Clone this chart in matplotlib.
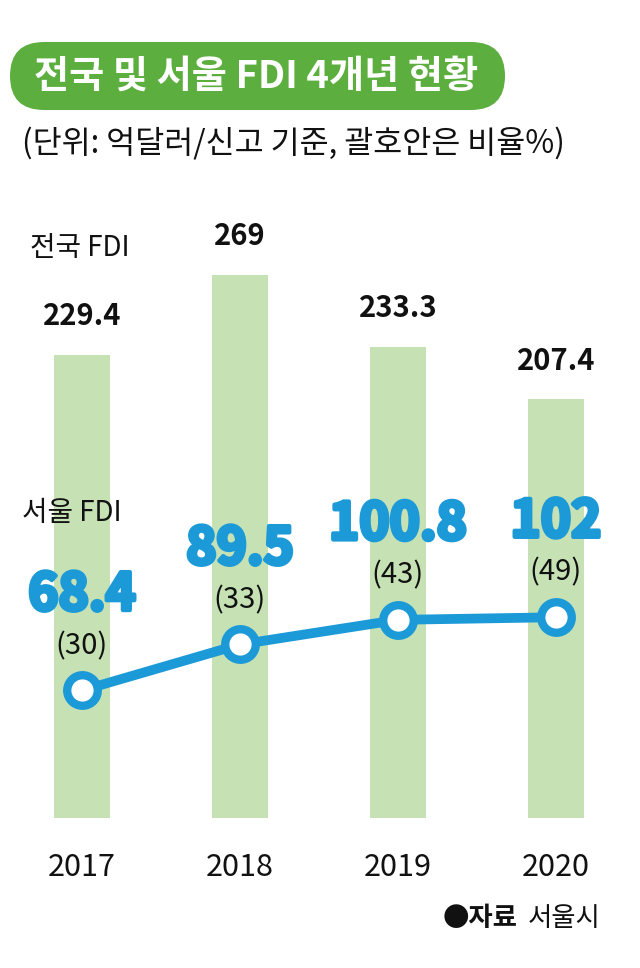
import numpy as np
import matplotlib
matplotlib.use("Agg")
from matplotlib import pyplot as plt
from matplotlib.patches import FancyBboxPatch
from matplotlib import patheffects as pe

plt.rcParams['font.family'] = ['Noto Sans CJK KR', 'DejaVu Sans']

years = ['2017', '2018', '2019', '2020']
national = [229.4, 269, 233.3, 207.4]
seoul = [68.4, 89.5, 100.8, 102]
seoul_pct = [30, 33, 43, 49]

green_bar = '#c6e2b5'
blue = '#1c9ad8'
pill_green = '#5cae3e'

fig = plt.figure(figsize=(6.4, 9.68), dpi=100)

# bars
ax = fig.add_axes([0, 150 / 968, 1, 618 / 968], zorder=1)
ax.patch.set_alpha(0)
x = np.arange(len(years))
ax.bar(x, national, width=0.354, color=green_bar)
ax.set_xlim(-0.519, 3.532)
ax.set_ylim(0, 306.2)
ax.axis('off')
for xi, v in zip(x, national):
    ax.annotate(f'{v:g}', (xi, v), xytext=(0, 28), textcoords='offset points',
                ha='center', va='center', fontsize=21, fontweight='bold', color='#111111')
for xi, y in zip(x, years):
    ax.annotate(y, (xi, 0), xytext=(0, -36), textcoords='offset points',
                ha='center', va='center', fontsize=22, color='#111111')

# seoul line
ax2 = fig.add_axes([0, 150 / 968, 1, 618 / 968], zorder=2)
ax2.patch.set_alpha(0)
ax2.plot(x, seoul, color=blue, lw=7, marker='o', ms=22, mfc='white',
         mec=blue, mew=6, solid_capstyle='round')
ax2.set_xlim(-0.519, 3.532)
ax2.set_ylim(9.86, 293.5)
ax2.axis('off')
thick = [pe.withStroke(linewidth=3, foreground=blue)]
for xi, v, p in zip(x, seoul, seoul_pct):
    ax2.annotate(f'({p})', (xi, v), xytext=(0, 32), textcoords='offset points',
                 ha='center', va='center', fontsize=21, color='#111111')
    ax2.annotate(f'{v:g}', (xi, v), xytext=(0, 69), textcoords='offset points',
                 ha='center', va='center', fontsize=37, fontweight='heavy', color=blue,
                 path_effects=thick)

# top layer in pixel units for title, notes
top = fig.add_axes([0, 0, 1, 1], zorder=3)
top.patch.set_alpha(0)
top.set_xlim(0, 640)
top.set_ylim(968, 0)
top.axis('off')

pill = FancyBboxPatch((10, 42), 495, 68, boxstyle="round,pad=0,rounding_size=34",
                      fc=pill_green, ec='none')
top.add_patch(pill)
top.text(256, 76, '전국 및 서울 FDI 4개년 현황', color='white', fontsize=27.5,
         fontweight='bold', ha='center', va='center')
top.text(22, 143, '(단위: 억달러/신고 기준, 괄호안은 비율%)', fontsize=22.7,
         ha='left', va='center', color='#111111')
top.text(30, 248, '전국 FDI', fontsize=20, ha='left', va='center', color='#111111')
top.text(22, 513, '서울 FDI', fontsize=20, ha='left', va='center', color='#111111')
top.text(600, 918, '서울시', fontsize=19, ha='right', va='center', color='#111111')
top.text(517, 918, '●자료', fontsize=19, fontweight='bold', ha='right', va='center',
         color='#111111')

fig.savefig('out.png', dpi=100)
